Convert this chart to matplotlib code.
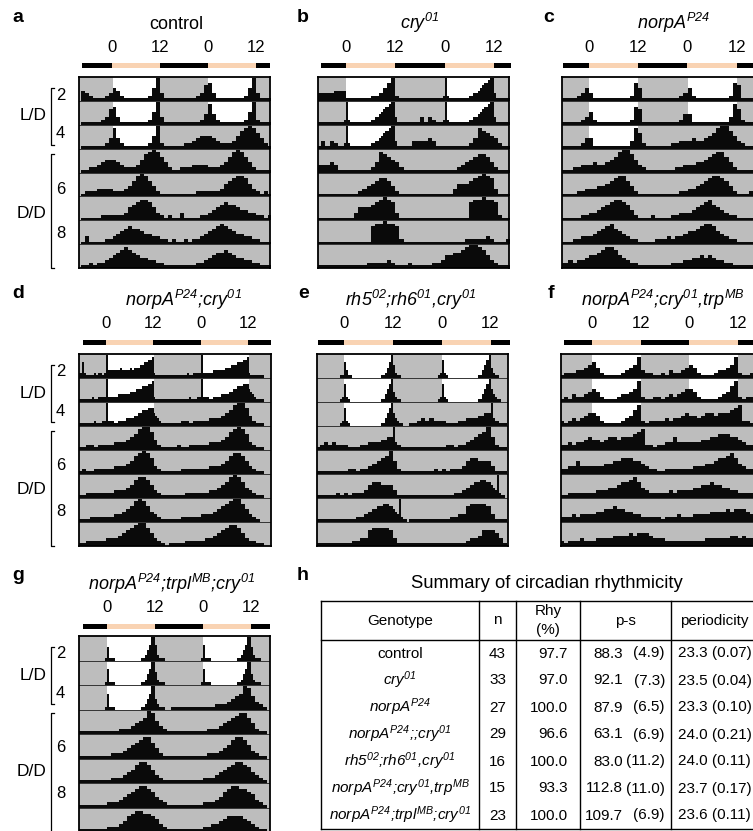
import matplotlib
matplotlib.use("Agg")
import matplotlib.pyplot as plt
from matplotlib.patches import Rectangle
import numpy as np

plt.rcParams['font.family'] = ['Liberation Sans', 'DejaVu Sans']
plt.rcParams['mathtext.fontset'] = 'custom'
plt.rcParams['mathtext.it'] = 'Liberation Sans:italic'
plt.rcParams['mathtext.rm'] = 'Liberation Sans:italic'
plt.rcParams['mathtext.default'] = 'it'

W, H = 753, 831

# Activity, level 0-9 (9 = full row), one string per day segment ZT-8 .. ZT16,
# days 2..10. Spaces only split night / light / evening for reading.
ACT_CONTROL = [
    "43211123 542111111259 3111",
    "11111236 731111111259 3111",
    "11111124 842111111259 2111",
    "11223455 543222357898 6421",
    "12223333 222346898642 1111",
    "11111222 222356788753 2121",
    "13111122 345676654433 2212",
    "11212234 567876544332 2111",
    "11111223 456676544332 2111",
]
ACT_CRY = [
    "33333444 111111223579 2111",
    "1111111111111112 921111111111223345677899 31111111",
    "1111331133221112 921111111111223345677899 31111111",
    "33334311 111111248765 4211",
    "11111111 111234567764 2111",
    "11111111 113555678987 3111",
    "11111111 111111788988 7211",
    "11111111 111112222232 1112",
    "11111223 556678998753 2111",
]
ACT_NORPA = [
    "11111235 311111111127 5111",
    "11111123 521111111127 6111",
    "11111124 411111111138 6211",
    "11112233 343345689975 3211",
    "11111223 334456788642 1111",
    "11111122 334567887642 1112",
    "11112233 345678654322 1111",
    "22232334 556788754322 1111",
    "11112223 344545433221 1111",
]
ACT_NORPA_CRY = [
    "2222621111212212 933333343333434445566778 21111111",
    "1111111112112222 922222333333444555666778 21111111",
    "1111111111211122 922211222233334455666777 54321111",
    "11122122 223334568997 4211",
    "11211222 223334578986 3211",
    "11122222 223334578875 3211",
    "11112222 223345689864 3211",
    "11122222 333456789975 3210",
    "11112222 233456788753 2211",
]
ACT_RH = [
    "0000000000000011 631100000000000000112469 52110000",
    "0000000000000012 721000000000000000113579 42110000",
    "0000000000000012 721000000000000000113579 53211000",
    "1111223322332222 221111112222333333444555 93221111",
    "11111111 122122345679 5211",
    "11111121 212223566555 3111",
    "1111111111111111 111111222233445566677766 54392110",
    "11111111 112233677776 3111",
    "11111111 111111233466 6531",
]
ACT_TRP = [
    "12223345 642111123458 3221",
    "12132234 542111233458 2112",
    "21232345 542111123468 2122",
    "22323345 443455455567 8221",
    "22335333 333445566655 4322",
    "11222222 233344566786 4322",
    "22232333 344556554433 2222",
    "21222322 233334444545 5543",
    "33222222 222233333344 3433",
]
ACT_TRPL = [
    "0000000000000001 511100000000000001124699 62111000",
    "0000000000000001 611100000000000001124699 52111000",
    "0000000000000001 611100000000000001124699 42111000",
    "11111111 111222345698 5321",
    "11111111 122234567886 4211",
    "11111111 122234578875 3211",
    "11111111 222345678876 4321",
    "11111111 222346788776 5321",
    "11111111 223345666654 3211",
]
LD_DAYS = [0, 1, 2]          # days 2-4 are light/dark, rest constant dark
LIGHT_HOURS = 12

# summary table
GENOTYPES = ['control', r'$cry^{01}$', r'$norpA^{P24}$', r'$norpA^{P24}$;;$cry^{01}$',
             r'$rh5^{02}$;$rh6^{01}$,$cry^{01}$', r'$norpA^{P24}$;$cry^{01}$,$trp^{MB}$',
             r'$norpA^{P24}$;$trpl^{MB}$;$cry^{01}$']
N_FLIES = [43, 33, 27, 29, 16, 15, 23]
RHY_PCT = [97.7, 97.0, 100.0, 96.6, 100.0, 93.3, 100.0]
PS_MEAN = [88.3, 92.1, 87.9, 63.1, 83.0, 112.8, 109.7]
PS_SEM = [4.9, 7.3, 6.5, 6.9, 11.2, 11.0, 6.9]
PERIOD = [23.3, 23.5, 23.3, 24.0, 24.0, 23.7, 23.6]
PERIOD_SEM = [0.07, 0.04, 0.10, 0.21, 0.11, 0.17, 0.11]

GRAY = '#bdbdbd'
PEACH = '#f9d3b3'

fig = plt.figure(figsize=(W / 100, H / 100), dpi=100)
ov = fig.add_axes([0, 0, 1, 1], zorder=5)
ov.set_xlim(0, W)
ov.set_ylim(H, 0)
ov.axis('off')
ov.patch.set_visible(False)


def draw_actogram(letter, letter_xy, title, title_x, act, box, zt, bar, day_labels):
    l, r, t, b = box
    z0, z24 = zt
    pph = (z24 - z0) / 24
    x0, x1 = (l - z0) / pph, (r - z0) / pph
    ax = fig.add_axes([l / W, 1 - b / H, (r - l) / W, (b - t) / H])
    segs = [np.array([int(c) for c in s if c.isdigit()]) for s in act]
    for row in range(8):
        y0 = 7 - row
        ax.add_patch(Rectangle((x0, y0), x1 - x0, 1, color=GRAY, lw=0))
        for d in LD_DAYS:
            ax.add_patch(Rectangle((24 * (d - row), y0), LIGHT_HOURS, 1,
                                   color='white', lw=0))
        for k, shift in ((row, 0), (row + 1, 24)):
            v = segs[k] / 9 * 0.97
            bw = 24 / len(v)
            xs = -8 + shift + np.arange(len(v) + 1) * bw
            ax.fill_between(xs, y0, y0 + np.append(v, v[-1]), step='post',
                            color='#0a0a0a', lw=0)
        ax.axhline(y0, color='#333333', lw=0.7)
    ax.set_xlim(x0, x1)
    ax.set_ylim(0, 8)
    ax.set_xticks([])
    ax.set_yticks([])
    for s in ax.spines.values():
        s.set_linewidth(1.3)

    # light/dark bar and ZT labels
    bl, br, by = bar
    ov.add_patch(Rectangle((bl, by - 2.5), br - bl, 5, color='black', lw=0))
    for h0 in (0, 24):
        a = max(z0 + h0 * pph, bl)
        e = min(z0 + (h0 + LIGHT_HOURS) * pph, br)
        ov.add_patch(Rectangle((a, by - 2.5), e - a, 5, color=PEACH, lw=0))
    for h, lab in zip([0, 12, 24, 36], ['0', '12', '0', '12']):
        ov.text(z0 + h * pph, by - 18, lab, ha='center', va='center', fontsize=12)

    style = 'normal' if title == 'control' else 'italic'
    ov.text(title_x, by - 36, title, ha='center', va='baseline', fontsize=13,
            style=style)
    ov.text(letter_xy[0], letter_xy[1], letter, ha='center', va='center',
            fontsize=14, fontweight='bold')

    if day_labels:
        for lab, off in (('2', 18), ('4', 57), ('6', 112), ('8', 157)):
            ov.text(56, t + off, lab, ha='left', va='center', fontsize=12)
        ov.text(33, t + 39, 'L/D', ha='center', va='center', fontsize=12.5)
        ov.text(32, t + 136, 'D/D', ha='center', va='center', fontsize=12.5)
        ov.plot([54, 51, 51, 54], [t + 11, t + 11, t + 68, t + 68], color='k', lw=0.9)
        ov.plot([54, 51, 51, 54], [t + 77, t + 77, b, b], color='k', lw=0.9)


draw_actogram('a', (18, 18), GENOTYPES[0], 176, ACT_CONTROL,
              (79, 270, 77, 268), (112.5, 208.3), (82, 270, 65), True)
draw_actogram('b', (303, 17), GENOTYPES[1], 420, ACT_CRY,
              (318, 509, 77, 268), (346, 444.7), (321, 511, 65), False)
draw_actogram('c', (549, 17), GENOTYPES[2], 674, ACT_NORPA,
              (562, 756, 77, 268), (589, 687.5), (563, 760, 65), False)
draw_actogram('d', (18, 294), r'$norpA^{P24}$;$cry^{01}$', 183, ACT_NORPA_CRY,
              (79, 271, 354, 546), (106, 201), (83, 271, 342), True)
draw_actogram('e', (304, 293), GENOTYPES[4], 411, ACT_RH,
              (317, 508, 354, 546), (344, 441.7), (318, 510, 342), False)
draw_actogram('f', (551, 293), GENOTYPES[5], 663, ACT_TRP,
              (561, 756, 354, 546), (592.3, 689.3), (564, 760, 342), False)
draw_actogram('g', (18, 576), GENOTYPES[6], 172, ACT_TRPL,
              (79, 270, 636, 832), (106.7, 202.7), (83, 270, 626), True)

# ---- h: summary table
ov.text(303, 576, 'h', ha='center', va='center', fontsize=14, fontweight='bold')
ov.text(547, 584, 'Summary of circadian rhythmicity', ha='center', va='center',
        fontsize=13.3)
col_x = [321, 479, 516, 580, 671, 770]
top, head, row_h = 601, 640, 27
bottom = head + row_h * len(GENOTYPES)
for y in (top, head, bottom):
    ov.plot([col_x[0], col_x[-1]], [y, y], color='k', lw=1.0)
for x in col_x:
    ov.plot([x, x], [top, bottom], color='k', lw=1.0)

hy = (top + head) / 2
ov.text(400, hy, 'Genotype', ha='center', va='center', fontsize=11)
ov.text(497.5, hy, 'n', ha='center', va='center', fontsize=11)
ov.text(548, hy - 9.5, 'Rhy', ha='center', va='center', fontsize=11)
ov.text(548, hy + 9.5, '(%)', ha='center', va='center', fontsize=11)
ov.text(625.5, hy, 'p-s', ha='center', va='center', fontsize=11)
ov.text(714, hy, 'periodicity', ha='center', va='center', fontsize=11)

for i, g in enumerate(GENOTYPES):
    y = head + row_h * (i + 0.5)
    ov.text(400, y, g, ha='center', va='center', fontsize=11,
            style='normal' if g == 'control' else 'italic')
    ov.text(497.5, y, f'{N_FLIES[i]}', ha='center', va='center', fontsize=11)
    ov.text(568, y, f'{RHY_PCT[i]:.1f}', ha='right', va='center', fontsize=11)
    ov.text(623, y, f'{PS_MEAN[i]:.1f}', ha='right', va='center', fontsize=11)
    ov.text(665, y, f'({PS_SEM[i]:.1f})', ha='right', va='center', fontsize=11)
    ov.text(678, y, f'{PERIOD[i]:.1f} ({PERIOD_SEM[i]:.2f})', ha='left',
            va='center', fontsize=11)

fig.savefig('out.png', dpi=100)
